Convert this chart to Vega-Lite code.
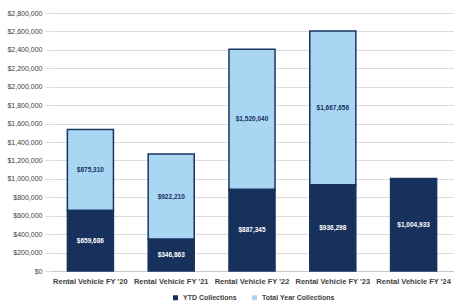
{
  "$schema": "https://vega.github.io/schema/vega-lite/v6.json",
  "width": 404,
  "height": 258,
  "autosize": "none",
  "padding": {"left": 50, "right": 0, "top": 13, "bottom": 35},
  "background": "white",
  "config": {
    "font": "Liberation Sans",
    "view": {"stroke": null},
    "axis": {"labelFont": "Liberation Sans", "labelColor": "#333333"},
    "legend": {"labelFont": "Liberation Sans"}
  },
  "data": {
    "values": [
      {"category": "Rental Vehicle FY '20", "series": "YTD Collections", "order": 1, "value": 659686},
      {"category": "Rental Vehicle FY '20", "series": "Total Year Collections", "order": 2, "value": 875310},
      {"category": "Rental Vehicle FY '21", "series": "YTD Collections", "order": 1, "value": 346863},
      {"category": "Rental Vehicle FY '21", "series": "Total Year Collections", "order": 2, "value": 922210},
      {"category": "Rental Vehicle FY '22", "series": "YTD Collections", "order": 1, "value": 887345},
      {"category": "Rental Vehicle FY '22", "series": "Total Year Collections", "order": 2, "value": 1520040},
      {"category": "Rental Vehicle FY '23", "series": "YTD Collections", "order": 1, "value": 936298},
      {"category": "Rental Vehicle FY '23", "series": "Total Year Collections", "order": 2, "value": 1667656},
      {"category": "Rental Vehicle FY '24", "series": "YTD Collections", "order": 1, "value": 1004933}
    ]
  },
  "transform": [
    {"stack": "value", "groupby": ["category"], "sort": [{"field": "order", "order": "ascending"}], "as": ["v0", "v1"]},
    {"calculate": "(datum.v0 + datum.v1) / 2", "as": "mid"}
  ],
  "encoding": {
    "x": {
      "field": "category",
      "type": "nominal",
      "sort": null,
      "scale": {"paddingInner": 0.43, "paddingOuter": 0.215},
      "axis": {
        "title": null,
        "labelAngle": 0,
        "labelFontSize": 7.5,
        "labelFontWeight": "bold",
        "labelColor": "#404040",
        "ticks": false,
        "domain": true,
        "domainColor": "#c8c8c8",
        "labelPadding": 6
      }
    }
  },
  "layer": [
    {
      "mark": {"type": "bar", "stroke": "#1a3461", "strokeWidth": 1.5},
      "encoding": {
        "y": {
          "field": "v0",
          "type": "quantitative",
          "scale": {"domain": [0, 2800000], "nice": false},
          "axis": {
            "title": null,
            "values": [0, 200000, 400000, 600000, 800000, 1000000, 1200000, 1400000, 1600000, 1800000, 2000000, 2200000, 2400000, 2600000, 2800000],
            "format": "$,.0f",
            "labelOverlap": false,
            "labelFontSize": 7,
            "labelColor": "#404040",
            "gridColor": "#dcdcdc",
            "tickColor": "#dcdcdc",
            "tickSize": 5,
            "domain": false,
            "labelPadding": 3
          }
        },
        "y2": {"field": "v1"},
        "color": {
          "field": "series",
          "type": "nominal",
          "sort": ["YTD Collections", "Total Year Collections"],
          "scale": {"domain": ["YTD Collections", "Total Year Collections"], "range": ["#17305c", "#a9d7f3"]},
          "legend": {
            "title": null,
            "orient": "none",
            "legendX": 122,
            "legendY": 281,
            "direction": "horizontal",
            "symbolType": "square",
            "symbolSize": 25,
            "symbolStrokeWidth": 0,
            "labelFontSize": 7,
            "labelFontWeight": "bold",
            "labelColor": "#404040",
            "columnPadding": 14,
            "padding": 0
          }
        }
      }
    },
    {
      "mark": {"type": "text", "fontSize": 6.5, "fontWeight": "bold", "baseline": "middle"},
      "encoding": {
        "y": {
          "field": "mid",
          "type": "quantitative",
          "axis": {
            "title": null,
            "values": [0, 200000, 400000, 600000, 800000, 1000000, 1200000, 1400000, 1600000, 1800000, 2000000, 2200000, 2400000, 2600000, 2800000],
            "format": "$,.0f",
            "labelOverlap": false,
            "labelFontSize": 7,
            "labelColor": "#404040",
            "gridColor": "#dcdcdc",
            "tickColor": "#dcdcdc",
            "tickSize": 5,
            "domain": false,
            "labelPadding": 3
          }
        },
        "text": {"field": "value", "type": "quantitative", "format": "$,.0f"},
        "color": {
          "condition": {"test": "datum.series === 'YTD Collections'", "value": "#ffffff"},
          "value": "#17305c"
        }
      }
    }
  ]
}
